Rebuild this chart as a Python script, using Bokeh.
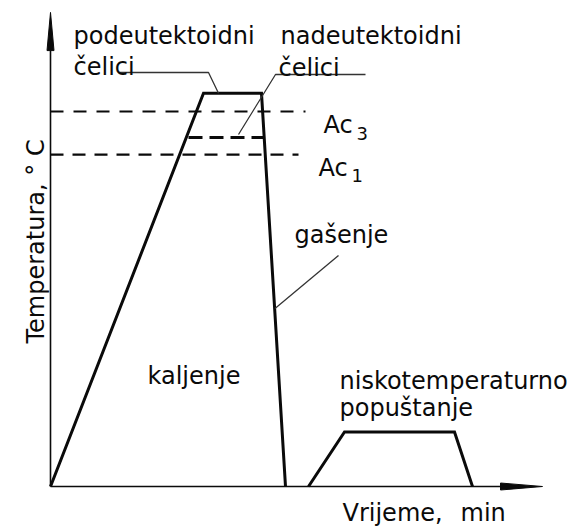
import math
from bokeh.plotting import figure
from bokeh.models import Range1d
from bokeh.core.properties import value
from bokeh.embed import file_html
from bokeh.resources import INLINE

# --- data (time in arbitrary minutes, temperature in deg C) ---
heat_t = [0.0, 15.3, 21.1, 23.5]          # kaljenje: heating, holding, quenching
heat_T = [0.0, 865.0, 865.0, 0.0]
temper_t = [25.8, 29.4, 40.4, 42.2]       # niskotemperaturno popustanje
temper_T = [0.0, 120.0, 120.0, 0.0]
Ac3 = 825.0
Ac1 = 730.0
T_nad = 768.0                              # hardening temperature, nadeutektoidni
ac3_end = 25.5
ac1_end = 24.8
nad_t = [13.8, 21.3]
axis_t_end = 49.2
axis_T_end = 1043.0

# leader lines
lead_pod_t = [6.8, 15.8, 16.8]
lead_pod_T = [910.8, 910.8, 865.0]
lead_nad_t = [31.5, 22.5, 18.8]
lead_nad_T = [906.4, 906.4, 774.4]
lead_gas_t = [28.8, 22.45]
lead_gas_T = [508.2, 391.6]

FONT = value("DejaVu Sans")
FS = "24px"
INK = "#0a0a0a"

p = figure(width=573, height=527, output_backend="svg", toolbar_location=None,
           x_range=Range1d(-5.0, 52.3), y_range=Range1d(-90.2, 1069.2),
           min_border=0)
p.axis.visible = False
p.grid.visible = False
p.outline_line_color = None
p.background_fill_color = "white"
p.border_fill_color = "white"

# axes with arrow heads
p.line([0, axis_t_end - 4.2], [0, 0], line_color=INK, line_width=1.6)
p.line([0, 0], [0, axis_T_end - 84], line_color=INK, line_width=1.6)
p.patch([axis_t_end - 4.2, axis_t_end, axis_t_end - 4.2], [-7.7, 0, 7.7],
        fill_color=INK, line_color=INK)
p.patch([-0.35, 0, 0.35], [axis_T_end - 84, axis_T_end, axis_T_end - 84],
        fill_color=INK, line_color=INK)

# Ac lines
p.line([0, ac3_end], [Ac3, Ac3], line_color=INK, line_width=2.2, line_dash="13 10")
p.line([0, ac1_end], [Ac1, Ac1], line_color=INK, line_width=2.2, line_dash="13 9")
p.line(nad_t, [T_nad, T_nad], line_color=INK, line_width=3, line_dash="14 7")

# curves
p.line(heat_t, heat_T, line_color=INK, line_width=3, line_join="miter")
p.line(temper_t, temper_T, line_color=INK, line_width=3, line_join="miter")

# leaders
for lt, lT in [(lead_pod_t, lead_pod_T), (lead_nad_t, lead_nad_T), (lead_gas_t, lead_gas_T)]:
    p.line(lt, lT, line_color="#333333", line_width=1.3)

def label(t, T, txt, size=FS, angle=0.0):
    p.text([t], [T], text=[txt], text_font=FONT, text_font_size=size,
           text_color=INK, text_baseline="alphabetic", text_align="left", angle=angle)

label(2.3, 992.2, "podeutektoidni")
label(2.3, 924.0, "čelici")
label(23.0, 992.2, "nadeutektoidni")
label(22.8, 921.8, "čelici")
label(27.3, 796.4, "Ac")
label(30.6, 776.6, "3", size="18px")
label(26.8, 701.8, "Ac")
label(30.1, 684.2, "1", size="18px")
label(24.4, 554.4, "gašenje")
label(9.7, 244.2, "kaljenje")
label(28.9, 233.2, "niskotemperaturno")
label(28.9, 173.8, "popuštanje")
label(29.2, -57.2, "Vrijeme,")
label(41.0, -57.2, "min")
label(-1.5, 314.6, "Temperatura, ° C", angle=math.pi / 2)

open("out.html", "w").write(file_html(p, INLINE))
